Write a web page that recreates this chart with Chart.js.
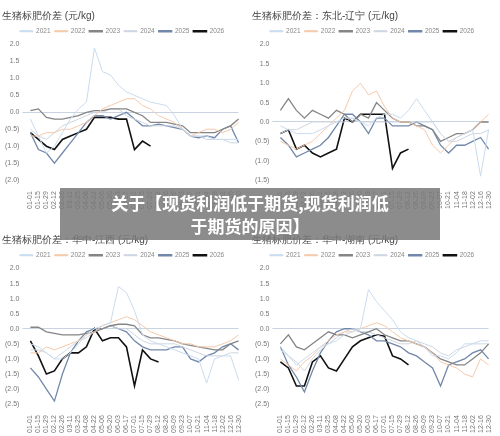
<!DOCTYPE html>
<html><head><meta charset="utf-8">
<script src="https://cdn.jsdelivr.net/npm/chart.js@4"></script>
<style>
body{margin:0;width:500px;height:436px;background:#fff;position:relative;overflow:hidden;font-family:"Noto Sans CJK SC","Noto Sans",sans-serif}
.box{position:absolute;width:250px}
.banner{position:absolute;left:60px;top:188px;width:380px;height:52px;background:rgba(120,120,120,0.85);color:#fff;font-weight:bold;font-size:17px;line-height:23px;text-align:center;padding-top:3px;box-sizing:border-box}
</style></head><body>
<div class="box" style="left:0;top:0;height:212px"><canvas id="c1"></canvas></div>
<div class="box" style="left:250px;top:0;height:212px"><canvas id="c2"></canvas></div>
<div class="box" style="left:0;top:224px;height:212px"><canvas id="c3"></canvas></div>
<div class="box" style="left:250px;top:224px;height:212px"><canvas id="c4"></canvas></div>
<div class="banner">关于【现货利润低于期货,现货利润低<br>于期货的原因】</div>
<script>
const labels = ['01-01','01-15','01-29','02-12','02-26','03-11','03-25','04-08','04-22','05-06','05-20','06-03','06-17','07-01','07-15','07-29','08-12','08-26','09-09','09-23','10-07','10-21','11-04','11-18','12-02','12-16','12-30'];
const years = ['2021','2022','2023','2024','2025','2026'];
const colors = ['#c9dbef','#f5c9aa','#858585','#cdd6e0','#7288aa','#111111'];
const widths = [1,1,1.3,1,1.3,1.6];

// 生猪标肥价差
const c1_2021 = [-0.2,-0.7,-1.2,-1.0,-0.6,-0.2,0.1,0.3,1.9,1.2,1.1,0.8,0.6,0.5,0.4,0.3,0.25,0.2,-0.1,-0.5,-0.7,-0.7,-0.7,-0.8,-0.8,-0.8,-0.8];
const c1_2022 = [-0.7,-0.7,-0.6,-0.6,-0.5,-0.5,-0.4,-0.3,-0.1,0.1,0.2,0.3,0.4,0.4,0.2,0.1,-0.1,-0.2,-0.3,-0.5,-0.7,-0.6,-0.5,-0.5,-0.6,-0.5,-0.3];
const c1_2023 = [0.05,0.1,-0.15,-0.2,-0.2,-0.15,-0.1,0.0,0.05,0.05,0.1,0.1,0.1,0.0,-0.1,-0.3,-0.3,-0.3,-0.35,-0.4,-0.6,-0.6,-0.6,-0.6,-0.5,-0.4,-0.2];
const c1_2024 = [-0.5,-0.7,-0.8,-0.6,-0.4,-0.3,-0.2,-0.1,0.0,0.0,0.1,0.1,-0.1,-0.2,-0.3,-0.4,-0.4,-0.4,-0.4,-0.5,-0.7,-0.7,-0.8,-0.8,-0.8,-0.9,-0.9];
const c1_2025 = [-0.6,-1.1,-1.2,-1.5,-1.2,-0.9,-0.6,-0.3,-0.1,-0.1,-0.2,-0.1,0.0,-0.2,-0.4,-0.4,-0.35,-0.4,-0.45,-0.5,-0.7,-0.75,-0.7,-0.75,-0.5,-0.4,-0.9];
const c1_2026 = [-0.6,-0.8,-1.0,-1.1,-0.8,-0.7,-0.6,-0.5,-0.15,-0.15,-0.15,-0.2,-0.2,-1.1,-0.85,-1.0];

// 东北-辽宁
const c2_2021 = [-0.1,-0.2,-0.3,-0.3,-0.3,-0.2,-0.1,0.0,0.1,0.1,0.0,-0.1,0.1,0.2,0.2,0.1,0.3,0.6,0.3,0.0,-0.3,-0.5,-0.4,-0.3,-0.2,-1.4,-0.2];
const c2_2022 = [-0.5,-0.6,-0.7,-0.6,-0.5,-0.3,-0.1,0.1,0.3,0.8,1.0,0.7,0.8,0.4,0.1,0.0,0.0,-0.1,-0.2,-0.6,-0.8,-0.6,-0.4,-0.3,-0.2,0.0,0.2];
const c2_2023 = [0.3,0.6,0.3,0.1,0.3,0.2,0.1,0.3,0.2,0.0,0.2,0.1,0.5,0.3,0.1,0.0,0.0,-0.1,-0.1,-0.2,-0.5,-0.4,-0.3,-0.3,-0.2,0.0,0.0];
const c2_2024 = [-0.3,-0.2,-0.2,-0.1,0.0,0.0,0.0,0.0,0.0,0.1,0.0,0.0,0.0,0.0,0.0,0.0,0.0,0.0,0.0,0.0,-0.3,-0.5,-0.5,-0.4,-0.3,-0.3,-0.2];
const c2_2025 = [-0.4,-0.6,-0.9,-0.8,-0.7,-0.6,-0.4,-0.1,0.2,0.2,0.0,-0.3,0.1,0.1,-0.1,-0.1,-0.1,0.0,-0.1,-0.2,-0.6,-0.8,-0.6,-0.6,-0.5,-0.4,-0.7];
const c2_2026 = [-0.3,-0.2,-0.7,-0.6,-0.8,-0.9,-0.8,-0.7,0.1,0.0,0.2,0.2,0.2,0.2,-1.2,-0.8,-0.7];

// 华中-江西
const c3_2021 = [-0.5,-0.6,-0.8,-1.0,-1.0,-0.8,-0.5,-0.2,0.0,0.1,0.2,1.4,1.2,0.6,-0.2,-0.4,-0.5,-0.6,-0.7,-0.8,-0.9,-1.0,-1.8,-1.0,-0.9,-0.9,-1.7];
const c3_2022 = [-0.8,-0.8,-0.6,-0.7,-0.6,-0.5,-0.4,-0.2,-0.1,0.1,0.2,0.3,0.4,0.3,0.1,-0.1,-0.2,-0.3,-0.4,-0.5,-0.5,-0.6,-0.6,-0.6,-0.5,-0.4,-0.2];
const c3_2023 = [0.05,0.05,-0.1,-0.15,-0.2,-0.2,-0.2,-0.15,-0.1,0.0,0.1,0.15,0.15,0.1,-0.2,-0.3,-0.3,-0.35,-0.4,-0.5,-0.55,-0.6,-0.65,-0.7,-0.7,-0.5,-0.4];
const c3_2024 = [-0.7,-0.7,-0.8,-1.0,-0.8,-0.6,-0.4,-0.3,-0.1,0.0,0.1,0.0,0.0,-0.2,-0.4,-0.5,-0.5,-0.5,-0.5,-0.6,-0.7,-0.8,-0.9,-0.9,-0.9,-0.8,-0.8];
const c3_2025 = [-1.3,-1.6,-2.0,-2.4,-1.5,-0.8,-0.4,-0.1,0.0,0.0,0.1,0.0,-0.1,-0.4,-0.6,-0.7,-0.7,-0.7,-0.6,-0.6,-1.0,-1.1,-0.9,-0.8,-0.6,-0.5,-0.7];
const c3_2026 = [-0.4,-0.9,-1.5,-1.4,-1.0,-0.8,-0.8,-0.6,0.0,-0.4,-0.3,-0.3,-0.6,-1.9,-0.7,-1.0,-1.1];

// 华中-湖南
const c4_2021 = [-0.6,-0.9,-1.2,-1.0,-0.8,-0.6,-0.5,-0.4,-0.2,-0.1,0.0,1.3,0.9,0.6,0.3,-0.1,-0.3,-0.4,-0.6,-0.9,-0.9,-1.0,-0.8,-0.5,-0.5,-0.4,-0.4];
const c4_2022 = [-1.0,-1.2,-1.4,-1.1,-0.9,-0.6,-0.4,-0.2,-0.1,-0.1,0.0,0.1,0.2,0.1,-0.1,-0.3,-0.4,-0.5,-0.6,-0.8,-1.1,-1.2,-1.3,-1.5,-1.6,-1.0,-1.2];
const c4_2023 = [-0.5,-0.2,-0.6,-0.7,-0.5,-0.3,-0.1,-0.2,-0.2,-0.3,-0.2,-0.1,0.0,-0.2,-0.3,-0.4,-0.4,-0.5,-0.6,-0.8,-1.0,-1.1,-1.2,-1.2,-1.0,-0.8,-0.5];
const c4_2024 = [-0.7,-0.9,-1.1,-1.4,-1.0,-0.7,-0.5,-0.3,-0.1,0.0,-0.1,-0.1,-0.2,-0.3,-0.4,-0.5,-0.5,-0.4,-0.5,-0.6,-0.8,-0.9,-0.7,-0.6,-0.5,-0.5,-0.5];
const c4_2025 = [-0.6,-1.2,-1.6,-2.1,-1.4,-0.8,-0.4,-0.1,0.0,0.0,-0.1,-0.2,-0.4,-0.4,-0.5,-0.6,-0.8,-0.9,-1.1,-1.3,-1.9,-1.2,-1.1,-1.0,-0.8,-0.7,-1.0];
const c4_2026 = [-1.1,-1.3,-1.9,-1.9,-1.1,-0.9,-1.3,-1.4,-1.0,-0.6,-0.4,-0.3,-0.2,-0.25,-0.9,-1.0,-1.2];

function fmt(v) {
  return v < 0 ? '(' + Math.abs(v).toFixed(1) + ')' : v.toFixed(1);
}

function makeChart(id, title, series, yMin, yMax) {
  new Chart(document.getElementById(id), {
    type: 'line',
    data: {
      labels: labels,
      datasets: series.map((s, i) => ({
        label: years[i], data: s, borderColor: colors[i], backgroundColor: colors[i],
        borderWidth: widths[i], pointRadius: 0, tension: 0
      }))
    },
    options: {
      responsive: true, maintainAspectRatio: false, animation: false,
      layout: { padding: { left: 2, right: 8, top: 4 } },
      plugins: {
        title: { display: true, text: title, align: 'start', color: '#444', font: { size: 10, weight: 'normal' }, padding: { top: 6, bottom: 2 } },
        legend: { labels: { boxWidth: 13, boxHeight: 1, font: { size: 6.5 }, color: '#888', padding: 4 } },
        tooltip: { enabled: false }
      },
      scales: {
        x: { grid: { display: false }, border: { display: false },
             ticks: { font: { size: 7 }, color: '#777', maxRotation: 90, minRotation: 90, autoSkip: false } },
        y: { min: yMin, max: yMax, border: { display: false },
             grid: { color: c => c.tick.value === 0 ? '#c9d4e2' : 'transparent' },
             ticks: { stepSize: 0.5, font: { size: 7 }, color: '#777', callback: v => fmt(v) } }
      }
    }
  });
}

makeChart('c1', '生猪标肥价差 (元/kg)', [c1_2021, c1_2022, c1_2023, c1_2024, c1_2025, c1_2026], -2.0, 2.0);
makeChart('c2', '生猪标肥价差：东北-辽宁 (元/kg)', [c2_2021, c2_2022, c2_2023, c2_2024, c2_2025, c2_2026], -1.5, 2.0);
makeChart('c3', '生猪标肥价差：华中-江西 (元/kg)', [c3_2021, c3_2022, c3_2023, c3_2024, c3_2025, c3_2026], -2.5, 2.0);
makeChart('c4', '生猪标肥价差：华中-湖南 (元/kg)', [c4_2021, c4_2022, c4_2023, c4_2024, c4_2025, c4_2026], -2.5, 2.0);
</script>
</body></html>
